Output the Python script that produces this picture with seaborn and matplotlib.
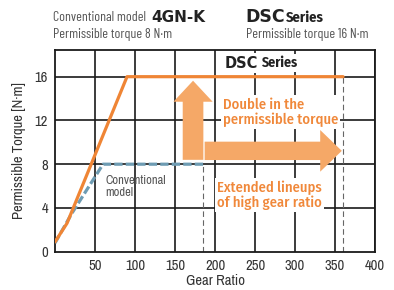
import matplotlib
matplotlib.use("Agg")
import matplotlib.pyplot as plt
import seaborn as sns
import pandas as pd

# data
dsc_ratio = [0, 15, 90, 360]
dsc_torque = [0.9, 2.6, 16, 16]
conv_ratio = [0, 21, 60, 185]
conv_torque = [0.8, 3.5, 8, 8]
x_ticks = [50, 100, 150, 200, 250, 300, 350, 400]
y_ticks = [0, 4, 8, 12, 16]

orange = "#EF8535"
arrow_c = "#F5A867"
txt_orange = "#F0883A"
blue = "#6E9CB3"
grey_txt = "#555555"

sns.set_style("ticks")
narrow = ["Archivo Narrow", "DejaVu Sans"]
cond_bold = ["Fira Sans Condensed", "DejaVu Sans"]
header = ["Barlow Condensed", "DejaVu Sans"]
plt.rcParams["font.family"] = narrow

fig = plt.figure(figsize=(3.94, 2.90), dpi=100)
ax = fig.add_axes([0.1396, 0.132, 0.8124, 0.696])

df_dsc = pd.DataFrame({"ratio": dsc_ratio, "torque": dsc_torque})
df_conv = pd.DataFrame({"ratio": conv_ratio, "torque": conv_torque})

ax.set_xlim(0, 400)
ax.set_ylim(0, 18.45)
for x in x_ticks:
    ax.axvline(x, color="#1a1a1a", lw=1.2, zorder=1)
for y in y_ticks[1:]:
    ax.axhline(y, color="#1a1a1a", lw=1.2, zorder=1)

# thin dashed guides at max gear ratio
ax.plot([conv_ratio[-1]] * 2, [0, conv_torque[-1]], color="#666666", lw=0.8, ls=(0, (5, 3)), zorder=2)
ax.plot([dsc_ratio[-1]] * 2, [0, dsc_torque[-1]], color="#666666", lw=0.8, ls=(0, (5, 3)), zorder=2)

# big arrows
ax.arrow(172.5, 8.4, 0, 7.23, width=25.8, head_width=49, head_length=1.92,
         length_includes_head=True, color=arrow_c, lw=0, zorder=3)
ax.arrow(187, 9.22, 171.4, 0, width=1.68, head_width=3.81, head_length=27,
         length_includes_head=True, color=arrow_c, lw=0, zorder=3)

sns.lineplot(data=df_conv, x="ratio", y="torque", ax=ax, color=blue, lw=2.3,
             zorder=4, estimator=None, sort=False)
ax.lines[-1].set_dashes((2.6, 1.0))
sns.lineplot(data=df_dsc, x="ratio", y="torque", ax=ax, color=orange, lw=2.3,
             zorder=5, estimator=None, sort=False)

ax.set_xticks(x_ticks)
ax.set_yticks(y_ticks)
ax.tick_params(length=0, labelsize=10.5, colors="#333333", pad=5)
ax.set_xlabel("Gear Ratio", fontsize=10.5, color="#333333", labelpad=1)
ax.set_ylabel("Permissible Torque [N·m]", fontsize=10.5, color="#333333", labelpad=6)
for s in ax.spines.values():
    s.set_color("#1a1a1a")
    s.set_linewidth(1.3)

wb = dict(facecolor="white", edgecolor="none", pad=1.5)
ax.text(212, 17.25, "DSC", fontsize=10.5, fontweight="bold", family="DejaVu Sans",
        color="#222222", va="center", bbox=wb, zorder=7)
ax.text(258.5, 17.25, "Series", fontsize=10, fontweight="bold", family=cond_bold,
        color="#222222", va="center", bbox=wb, zorder=7)
ax.text(210, 12.75, "Double in the\npermissible torque", fontsize=10.5, fontweight="medium",
        family=cond_bold, color=txt_orange, va="center", linespacing=1.1, bbox=wb, zorder=6)
ax.text(203, 5.15, "Extended lineups\nof high gear ratio", fontsize=10.5, fontweight="medium",
        family=cond_bold, color=txt_orange, va="center", linespacing=1.1, bbox=wb, zorder=6)
ax.text(63, 5.95, "Conventional\nmodel", fontsize=9, color=grey_txt, va="center",
        linespacing=1.15, zorder=6)

# header texts
fig.text(0.135, 0.94, "Conventional model", fontsize=10, family=header,
         color=grey_txt, va="center")
fig.text(0.385, 0.94, "4GN-K", fontsize=11, fontweight="bold", family="DejaVu Sans",
         color="#222222", va="center")
fig.text(0.135, 0.88, "Permissible torque 8 N·m", fontsize=10, family=header,
         color=grey_txt, va="center")
fig.text(0.624, 0.94, "DSC", fontsize=12.5, fontweight="bold", family="DejaVu Sans",
         color="#222222", va="center")
fig.text(0.726, 0.94, "Series", fontsize=10.5, fontweight="bold", family=cond_bold,
         color="#222222", va="center")
fig.text(0.624, 0.88, "Permissible torque 16 N·m", fontsize=10, family=header,
         color=grey_txt, va="center")

fig.savefig("out.png", dpi=100)
